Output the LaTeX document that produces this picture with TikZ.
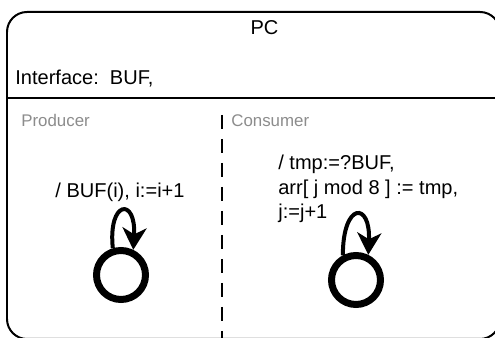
\documentclass[tikz,border=0pt]{standalone}
\usepackage{fontspec}
\setmainfont{Liberation Sans}
\usepackage{xcolor}
\usetikzlibrary{arrows.meta}
\definecolor{lblgray}{HTML}{8C8C8C}
\tikzset{
  state/.style={circle,draw,line width=0.14cm,minimum size=0.98cm,inner sep=0pt},
  loopline/.style={line width=0.08cm,-{Stealth[length=0.44cm,width=0.48cm,inset=0.13cm]}},
  txt/.style={font=\fontsize{11.4}{13.95}\selectfont,inner sep=0pt},
  region/.style={font=\fontsize{9.6}{11}\selectfont,text=lblgray,inner sep=0pt}
}

\begin{document}
\begin{tikzpicture}
\useasboundingbox (0,0) rectangle (9.9,6.76);

\draw[line width=0.04cm,rounded corners=0.4cm] (0.14,-0.02) rectangle (10.0,6.52);
\draw[line width=0.04cm] (0.14,4.8) -- (10.0,4.8);
\coordinate (divtop) at (4.44,4.46);
\coordinate (divbot) at (4.44,-0.02);
\draw[line width=0.05cm,dash pattern=on 0.28cm off 0.2cm] (divtop) -- (divbot);

\node[txt,anchor=base] (title) at (5.29,6.06) {PC};
\node[txt,anchor=base west] (iface) at (0.3,5.06) {Interface:\ \ BUF,};
\node[region,anchor=base west] (prod) at (0.42,4.22) {Producer};
\node[region,anchor=base west] (cons) at (4.62,4.22) {Consumer};

\node[state] (p) at (2.42,1.26) {};
\node[state] (c) at (7.12,1.16) {};

\draw[loopline] (p.107) .. controls +(-0.1,0.96) and +(0.06,1.06) .. (p.64);
\draw[loopline] (c.118) .. controls +(0,1.07) and +(0.05,1.07) .. (c.64);

\node[txt,anchor=base] (plabel) at (2.4,2.8) {/ BUF(i), i:=i+1};
\node[txt,anchor=base west,align=left] (clabel) at (5.56,2.38) {/ tmp:=?BUF,\\arr[ j mod 8 ] := tmp,\\j:=j+1};
\end{tikzpicture}
\end{document}
